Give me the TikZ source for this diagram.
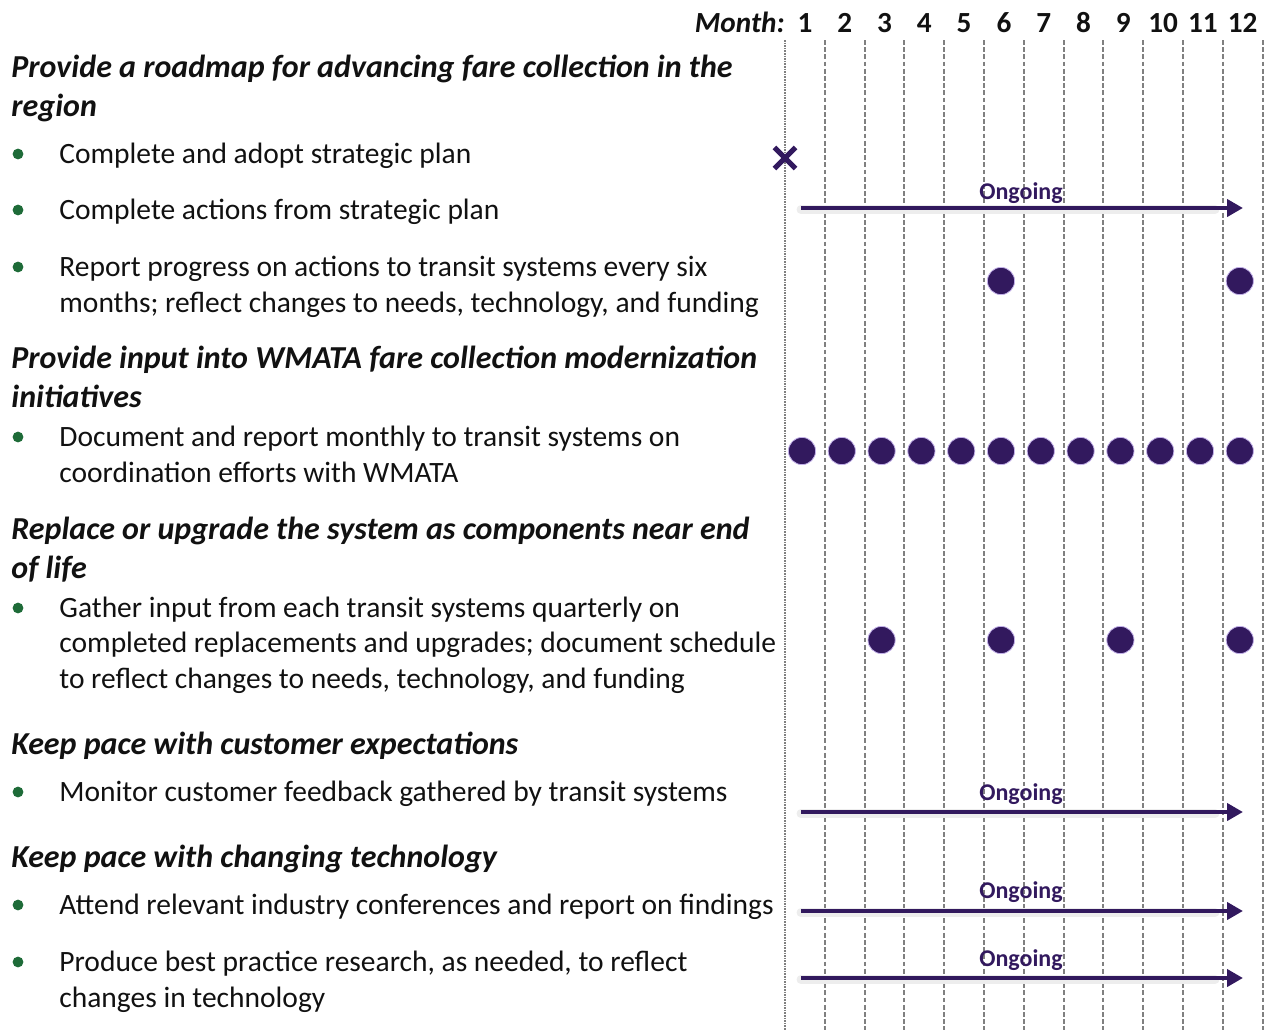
\documentclass[tikz,border=0pt]{standalone}
\usepackage{fontspec}
\setmainfont{Carlito}
\usetikzlibrary{arrows.meta,positioning,shapes.misc}
\definecolor{planPurple}{HTML}{32195E}
\definecolor{planHalo}{HTML}{C2B0E8}
\definecolor{planGreen}{HTML}{1E6B38}
\definecolor{gridGrey}{HTML}{808080}
\definecolor{ink}{HTML}{111111}
\newcommand{\BodyFont}{\fontsize{14.75}{17.6}\selectfont}
\newcommand{\HeadFont}{\fontsize{16}{19.5}\selectfont\bfseries\itshape}
\newcommand{\MonthFont}{\fontsize{14.6}{17}\selectfont\bfseries}
\newcommand{\TagFont}{\fontsize{12}{14}\selectfont\bfseries}
\tikzset{
  goal/.style={anchor=base west,font=\HeadFont,ink,align=left,inner sep=0pt},
  task/.style={anchor=base west,font=\BodyFont,ink,align=left,inner sep=0pt},
  bul/.style={circle,fill=planGreen,inner sep=0pt,minimum size=5.4pt},
  milestone/.style={circle,fill=planPurple,draw=planHalo,line width=0.4pt,inner sep=0pt,minimum size=13.6pt},
  ongoing/.style={planPurple,line width=2pt,-{Triangle[length=8pt,width=8.5pt]}},
  tag/.style={font=\TagFont,planPurple,anchor=base,inner sep=0pt},
  gridline/.style={gridGrey,line width=1pt,dash pattern=on 2.4pt off 1.2pt},
}

\begin{document}
\begin{tikzpicture}[x=0.5pt,y=-0.5pt]
  \useasboundingbox (0,0) rectangle (1270,1030);
  \def\L{785}\def\dx{39.8}\def\Top{40}\def\Bot{1030}

  % Month grid
  \draw[gridGrey,line width=1.1pt,dash pattern=on 0.8pt off 0.5pt] (\L,\Top) -- (\L,\Bot);
  \foreach \k in {1,...,12} {
    \pgfmathsetmacro{\gx}{\L+\k*\dx}
    \draw[gridline] (\gx,\Top) -- (\gx,\Bot);
  }
  \node[anchor=base east,font=\MonthFont\itshape,ink,inner sep=0pt] (month) at (\L,32) {Month:};
  \foreach \k in {1,...,12} {
    \pgfmathsetmacro{\mx}{\L+(\k-0.5)*\dx}
    \node[anchor=base,font=\MonthFont,ink,inner sep=0pt] (m\k) at (\mx,32) {\k};
  }

  % Roadmap (multi-line nodes sit on their last baseline)
  \node[goal] (g1) at (11,116) {Provide a roadmap for advancing fare collection in the\\region};
  \node[bul] (b1) at (18,154) {};
  \node[task] (t1) at (59,163) {Complete and adopt strategic plan};
  \node[bul] (b2) at (18,210) {};
  \node[task] (t2) at (59,219) {Complete actions from strategic plan};
  \node[bul] (b3) at (18,267) {};
  \node[task] (t3) at (59,312) {Report progress on actions to transit systems every six\\months; reflect changes to needs, technology, and funding};

  % WMATA
  \node[goal] (g2) at (11,407) {Provide input into WMATA fare collection modernization\\initiatives};
  \node[bul] (b4) at (18,437) {};
  \node[task] (t4) at (59,482) {Document and report monthly to transit systems on\\coordination efforts with WMATA};

  % End of life
  \node[goal] (g3) at (11,578) {Replace or upgrade the system as components near end\\of life};
  \node[bul] (b5) at (18,608) {};
  \node[task] (t5) at (59,688) {Gather input from each transit systems quarterly on\\completed replacements and upgrades; document schedule\\to reflect changes to needs, technology, and funding};

  % Customers
  \node[goal] (g4) at (11,754) {Keep pace with customer expectations};
  \node[bul] (b6) at (18,792) {};
  \node[task] (t6) at (59,801) {Monitor customer feedback gathered by transit systems};

  % Technology
  \node[goal] (g5) at (11,867) {Keep pace with changing technology};
  \node[bul] (b7) at (18,905) {};
  \node[task] (t7) at (59,914) {Attend relevant industry conferences and report on findings};
  \node[bul] (b8) at (18,962) {};
  \node[task] (t8) at (59,1007) {Produce best practice research, as needed, to reflect\\changes in technology};

  % Adoption mark
  \node[cross out,draw=planPurple,line width=2.6pt,minimum size=8pt,inner sep=0pt] (adopt) at (\L,158) {};

  % Milestones
  \foreach \row/\yy/\months in {rep/281/{6,12}, doc/451/{1,2,3,4,5,6,7,8,9,10,11,12}, upg/640/{3,6,9,12}} {
    \foreach \k in \months {
      \pgfmathsetmacro{\dotx}{\L+(\k-1)*\dx+17}
      \node[milestone] (\row\k) at (\dotx,\yy) {};
    }
  }

  % Ongoing arrows
  \foreach \n/\yy/\ty in {1/208/199, 2/812/800, 3/911/898, 4/978/966} {
    \coordinate (os\n) at (801,\yy);
    \coordinate (oe\n) at (1243,\yy);
    \draw[black!7,line width=4.5pt,line cap=round] ([yshift=-0.8pt]os\n) -- ([xshift=-14,yshift=-0.8pt]oe\n);
    \draw[ongoing] (os\n) -- (oe\n);
    \node[tag] (og\n) at (1021,\ty) {Ongoing};
  }
\end{tikzpicture}
\end{document}
